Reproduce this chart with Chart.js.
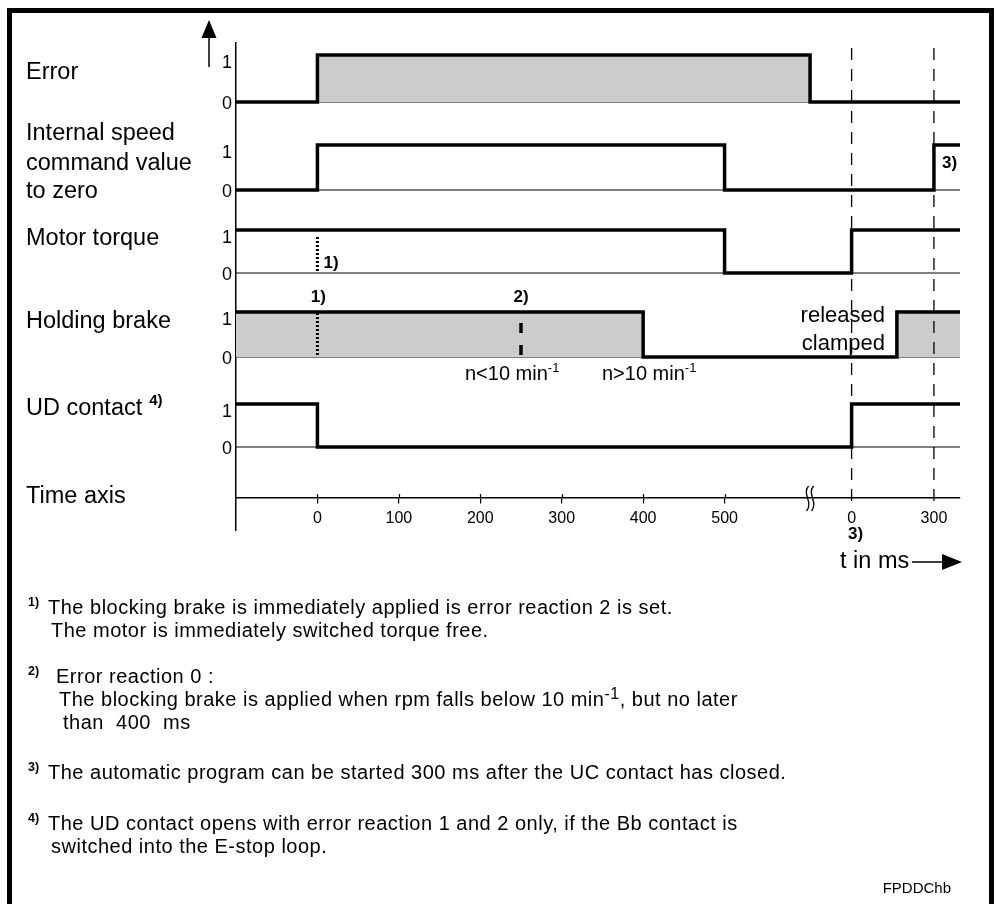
<!DOCTYPE html>
<html>
<head>
<meta charset="utf-8">
<script src="https://cdn.jsdelivr.net/npm/chart.js@4/dist/chart.umd.min.js"></script>
<style>
  html, body { margin: 0; padding: 0; background: #fff; }
  #wrap { width: 996px; height: 904px; }
</style>
</head>
<body>
<div id="wrap"><canvas id="timing" width="996" height="904"></canvas></div>
<script>
// Signals, top to bottom
const signalNames = ['Error', 'Internal speed command value to zero', 'Motor torque', 'Holding brake', 'UD contact'];

// Time axis. Left of the break the unit is ms; right of the break the
// scale is squeezed, after() converts those ms into axis units.
const tStart = -100;
const tBreak = 605;
const seg2Zero = 656;
const seg2Per100 = 33.7;
function after(ms) { return seg2Zero + ms * seg2Per100 / 100; }
const tEnd = after(395);

// level changes: level[i] holds from time[i] until the next time
const errorTimes   = [tStart, 0, tBreak, tEnd];
const errorLevels  = [0, 1, 0, 0];
const speedTimes   = [tStart, 0, 500, after(300), tEnd];
const speedLevels  = [0, 1, 0, 1, 1];
const torqueTimes  = [tStart, 500, after(0), tEnd];
const torqueLevels = [1, 0, 1, 1];
const brakeTimes   = [tStart, 400, after(165), tEnd];
const brakeLevels  = [1, 0, 1, 1];
const udTimes      = [tStart, 0, after(0), tEnd];
const udLevels     = [1, 0, 1, 1];

const tickValues = [0, 100, 200, 300, 400, 500, after(0), after(300)];
const tickLabels = ['0', '100', '200', '300', '400', '500', '0', '300'];

// layout of the rows (y units = pixels from the bottom of the plot)
const rowBase = [428, 340, 257, 173, 83];
const rowHeight = [47, 45, 43, 45, 43];
const rowFilled = [true, false, false, true, false];
const timeAxisY = 32;

const FONT = '"Liberation Sans", Arial, Helvetica, sans-serif';
const GREY = '#cccccc';

const series = [
  [errorTimes, errorLevels],
  [speedTimes, speedLevels],
  [torqueTimes, torqueLevels],
  [brakeTimes, brakeLevels],
  [udTimes, udLevels]
];

// 'before' draws the previous level up to the next point, then the edge
const datasets = [];
series.forEach(function (s, i) {
  datasets.push({
    label: signalNames[i],
    data: s[0].map((t, k) => ({ x: t, y: rowBase[i] + s[1][k] * rowHeight[i] })),
    stepped: 'before',
    borderColor: '#000',
    borderWidth: 3.5,
    borderJoinStyle: 'miter',
    pointRadius: 0,
    fill: rowFilled[i] ? { value: rowBase[i] } : false,
    backgroundColor: GREY,
    order: 1
  });
});
// thin zero lines
rowBase.forEach(function (b) {
  datasets.push({
    data: [{ x: tStart, y: b }, { x: tEnd, y: b }],
    borderColor: '#000', borderWidth: 1, pointRadius: 0, fill: false,
    order: 2
  });
});

function vline(t, y0, y1, dash, width) {
  return {
    data: [{ x: t, y: y0 }, { x: t, y: y1 }],
    borderColor: '#000', borderWidth: width, borderDash: dash,
    borderCapStyle: 'butt', pointRadius: 0, fill: false,
    order: 0
  };
}
datasets.push(vline(after(0), 482, 25, [12, 9], 1.3));
datasets.push(vline(after(300), 482, 25, [12, 9], 1.3));
datasets.push(vline(0, 293, 258, [2, 2], 3));
datasets.push(vline(0, 217, 174, [2, 2], 3));
datasets.push(vline(250, 207, 174, [10, 12], 3.5));

function txt(ctx, s, x, y, size, bold, align) {
  ctx.font = (bold ? 'bold ' : '') + size + 'px ' + FONT;
  ctx.textAlign = align || 'left';
  ctx.textBaseline = 'alphabetic';
  ctx.fillText(s, x, y);
  return x + ctx.measureText(s).width;
}

function note(ctx, num, y, lines) {
  txt(ctx, num, 28, y - 8, 12.5, true);
  ctx.letterSpacing = '0.5px';
  lines.forEach(function (l, i) {
    let x = l.x;
    l.parts.forEach(function (p) {
      if (p.sup) x = txt(ctx, p.t, x, y + i * 23 - 7, 16);
      else x = txt(ctx, p.t, x, y + i * 23, 20);
    });
  });
  ctx.letterSpacing = '0px';
}

const decor = {
  id: 'decor',
  afterDraw(chart) {
    const { ctx, scales: { x, y } } = chart;
    const px = v => x.getPixelForValue(v);
    const py = v => y.getPixelForValue(v);
    ctx.save();
    ctx.fillStyle = '#000';
    ctx.strokeStyle = '#000';

    // frame
    ctx.lineWidth = 5;
    ctx.strokeRect(9.5, 10.5, 982, 905);

    // up arrow of the level axis
    ctx.lineWidth = 1.5;
    ctx.beginPath(); ctx.moveTo(209, 67); ctx.lineTo(209, 36); ctx.stroke();
    ctx.beginPath(); ctx.moveTo(209, 20); ctx.lineTo(201.5, 38); ctx.lineTo(216.5, 38); ctx.closePath(); ctx.fill();

    // row names
    txt(ctx, 'Error', 26, 79, 23.5);
    txt(ctx, 'Internal speed', 26, 140, 23.5);
    txt(ctx, 'command value', 26, 170, 23.5);
    txt(ctx, 'to zero', 26, 198, 23.5);
    txt(ctx, 'Motor torque', 26, 245, 23.5);
    txt(ctx, 'Holding brake', 26, 328, 23.5);
    const ud = txt(ctx, 'UD contact', 26, 415, 23.5);
    txt(ctx, '4)', ud + 7, 405, 15, true);
    txt(ctx, 'Time axis', 26, 503, 23.5);

    // 0 / 1 levels
    rowBase.forEach(function (b, i) {
      txt(ctx, '1', 227, py(b + rowHeight[i]) + 13, 18, false, 'center');
      txt(ctx, '0', 227, py(b) + 7, 18, false, 'center');
    });

    // tick marks crossing the time axis
    const ay = py(timeAxisY);
    ctx.lineWidth = 1.2;
    tickValues.slice(0, 6).forEach(function (v) {
      ctx.beginPath(); ctx.moveTo(Math.round(px(v)) + 0.5, ay - 4); ctx.lineTo(Math.round(px(v)) + 0.5, ay); ctx.stroke();
    });

    // break mark
    const bx = px(tBreak);
    ctx.lineWidth = 1.3;
    [-2.5, 2.5].forEach(function (d) {
      ctx.beginPath();
      ctx.moveTo(bx + d + 1, ay - 12);
      ctx.bezierCurveTo(bx + d - 6, ay - 4, bx + d + 6, ay + 4, bx + d - 1, ay + 13);
      ctx.stroke();
    });

    // footnote markers in the plot
    txt(ctx, '1)', px(0) + 6, 268, 17, true);
    txt(ctx, '1)', px(0) + 1, 302, 17, true, 'center');
    txt(ctx, '2)', px(250), 302, 17, true, 'center');
    txt(ctx, '3)', px(after(300)) + 8, 168, 17, true);
    txt(ctx, '3)', px(after(0)) + 4, 539, 17, true, 'center');

    let e = txt(ctx, 'n<10 min', 465, 380, 20);
    txt(ctx, '-1', e, 372, 13);
    e = txt(ctx, 'n>10 min', 602, 380, 20);
    txt(ctx, '-1', e, 372, 13);

    txt(ctx, 'released', 885, 322, 22, false, 'right');
    txt(ctx, 'clamped', 885, 350, 22, false, 'right');

    // t in ms arrow
    txt(ctx, 't in ms', 840, 568, 23.5);
    ctx.lineWidth = 1.5;
    ctx.beginPath(); ctx.moveTo(912, 562); ctx.lineTo(945, 562); ctx.stroke();
    ctx.beginPath(); ctx.moveTo(962, 562); ctx.lineTo(942, 554); ctx.lineTo(942, 570); ctx.closePath(); ctx.fill();

    // footnotes
    note(ctx, '1)', 614, [
      { x: 48, parts: [{ t: 'The blocking brake is immediately applied is error reaction 2 is set.' }] },
      { x: 51, parts: [{ t: 'The motor is immediately switched torque free.' }] }
    ]);
    note(ctx, '2)', 683, [
      { x: 56, parts: [{ t: 'Error reaction 0 :' }] },
      { x: 59, parts: [{ t: 'The blocking brake is applied when rpm falls below 10 min' }, { t: '-1', sup: true }, { t: ', but no later' }] },
      { x: 63, parts: [{ t: 'than  400  ms' }] }
    ]);
    note(ctx, '3)', 779, [
      { x: 48, parts: [{ t: 'The automatic program can be started 300 ms after the UC contact has closed.' }] }
    ]);
    note(ctx, '4)', 830, [
      { x: 48, parts: [{ t: 'The UD contact opens with error reaction 1 and 2 only, if the Bb contact is' }] },
      { x: 51, parts: [{ t: 'switched into the E-stop loop.' }] }
    ]);
    txt(ctx, 'FPDDChb', 951, 893, 15, false, 'right');

    ctx.restore();
  }
};

const chart = new Chart(document.getElementById('timing').getContext('2d'), {
  type: 'line',
  data: { datasets: datasets },
  options: {
    responsive: false,
    animation: false,
    devicePixelRatio: 1,
    layout: { padding: { left: 236, right: 36, top: 43, bottom: 374 } },
    plugins: { legend: { display: false }, tooltip: { enabled: false } },
    scales: {
      x: {
        type: 'linear',
        min: tStart,
        max: tEnd,
        position: { y: timeAxisY },
        afterBuildTicks: function (scale) {
          scale.ticks = tickValues.map(v => ({ value: v }));
        },
        grid: {
          drawOnChartArea: false,
          drawTicks: true,
          tickLength: 5,
          lineWidth: 1.2,
          color: ctx => (ctx.index >= 6 ? 'rgba(0,0,0,0)' : '#000')
        },
        border: { display: true, color: '#000', width: 1.5 },
        ticks: {
          autoSkip: false,
          maxRotation: 0,
          padding: 6,
          color: '#000',
          font: { family: FONT, size: 16 },
          callback: (v, i) => tickLabels[i]
        }
      },
      y: {
        type: 'linear',
        min: 0,
        max: 487,
        position: 'left',
        afterFit: function (scale) { scale.width = 0; },
        grid: { display: false },
        ticks: { display: false },
        border: { display: true, color: '#000', width: 1.5 }
      }
    }
  },
  plugins: [decor]
});
</script>
</body>
</html>
